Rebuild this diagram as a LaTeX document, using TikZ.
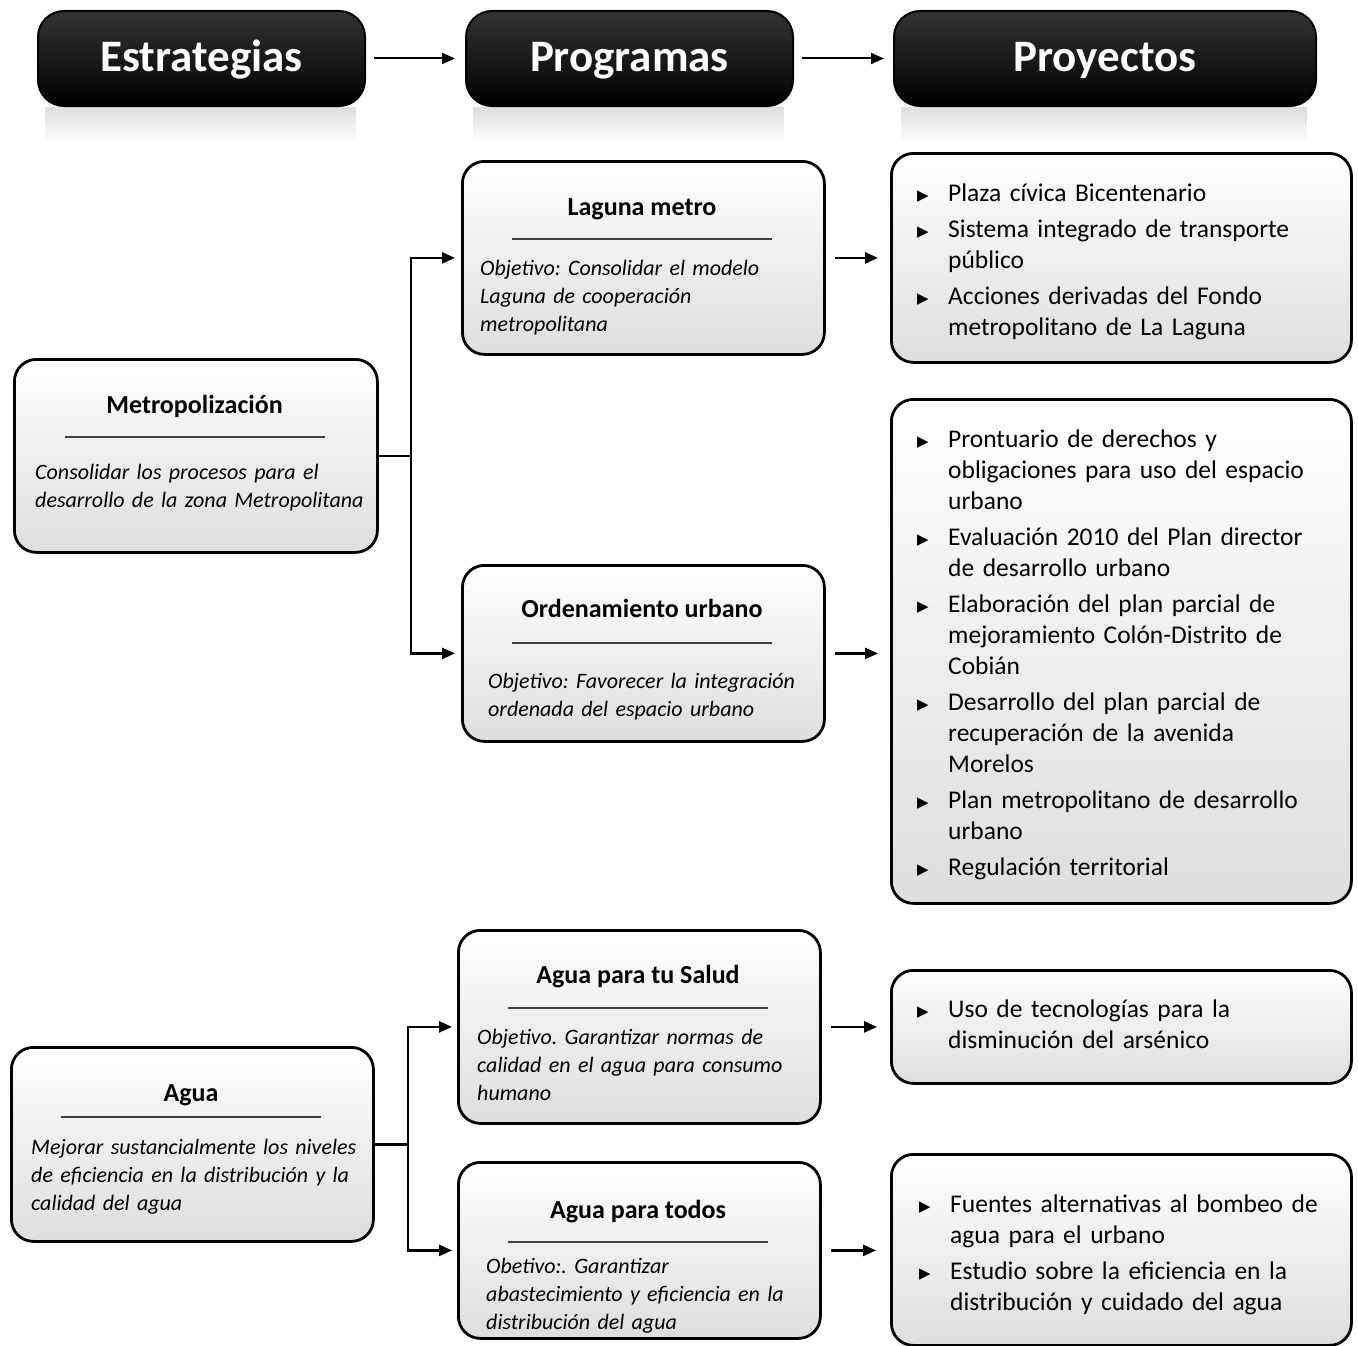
\documentclass[tikz,border=0pt]{standalone}
\usepackage{fontspec}
\setmainfont{Carlito}
\newfontfamily\symfont{DejaVu Sans}
\usetikzlibrary{arrows.meta}

% one bullet entry of a project list: triangle marker, hanging lines
\newcommand\bulitem[1]{\par\hangindent=31pt\hangafter=1\noindent
  \makebox[31pt][l]{\raisebox{1pt}{\symfont\fontsize{15}{15}\selectfont ▶}}#1}
\newcommand\itemgap{\par\vspace{5pt}}

\begin{document}
\frenchspacing
\begin{tikzpicture}[x=1pt,y=-1pt,
  header/.style={draw=black, line width=2pt, rounded corners=26pt,
    top color=black!80, bottom color=black, anchor=north west,
    inner sep=0pt, minimum height=95pt, text=white,
    text height=33pt, text depth=8pt,
    font=\fontsize{45}{52}\selectfont\bfseries},
  glow/.style={top color=black!13, bottom color=white, draw=none},
  panel/.style={draw=black, line width=2.8pt, rounded corners=22pt,
    top color=white, bottom color=black!13, anchor=north west, inner sep=0pt},
  ttl/.style={anchor=base, inner sep=0pt, font=\fontsize{26}{31}\selectfont\bfseries},
  obj/.style={anchor=base west, inner sep=0pt, text width=345pt, align=left,
    font=\fontsize{22}{28}\selectfont\itshape},
  plist/.style={anchor=west, inner sep=0pt, text width=425pt,
    font=\fontsize{25.5}{31}\selectfont},
  rule/.style={line width=2.2pt, black!75},
  link/.style={line width=2.6pt, -{Triangle[length=13pt,width=11pt]}},
  tree/.style={line width=2.6pt},
]
\useasboundingbox (0,0) rectangle (1358,1346);

% ---------- column headers ----------
\shade[glow] (45,107) rectangle (356,142);
\shade[glow] (473,107) rectangle (784,142);
\shade[glow] (901,107) rectangle (1307,142);
\node[header, minimum width=327pt] (h1) at (37,10) {Estrategias};
\node[header, minimum width=327pt] (h2) at (465,10) {Programas};
\node[header, minimum width=422pt] (h3) at (893,10) {Proyectos};
\draw[link, line width=2pt, shorten <=8pt, shorten >=10pt] (h1.east) -- (h2.west);
\draw[link, line width=2pt, shorten <=8pt, shorten >=9pt] (h2.east) -- (h3.west);

% ---------- strategies ----------
\node[panel, minimum width=363pt, minimum height=193pt] (met) at (13,358) {};
\node[ttl] (tmet) at (194.5,413) {Metropolización};
\draw[rule] (64.5,437) -- (324.5,437);
\node[obj] (omet) at (35,479) {Consolidar los procesos para el\\desarrollo de la zona Metropolitana};

\node[panel, minimum width=362pt, minimum height=194pt] (agua) at (10,1046) {};
\node[ttl] (tagua) at (191,1101) {Agua};
\draw[rule] (61,1117) -- (321,1117);
\node[obj] (oagua) at (31,1154) {Mejorar sustancialmente los niveles\\de eficiencia en la distribución y la\\calidad del agua};

% ---------- programs ----------
\node[panel, minimum width=362pt, minimum height=193pt] (lag) at (461,160) {};
\node[ttl] (tlag) at (642,215) {Laguna metro};
\draw[rule] (512,239) -- (772,239);
\node[obj] (olag) at (480,275) {Objetivo: Consolidar el modelo\\Laguna de cooperación\\metropolitana};

\node[panel, minimum width=362pt, minimum height=176pt] (ord) at (461,564) {};
\node[ttl] (tord) at (642,617) {Ordenamiento urbano};
\draw[rule] (512,643) -- (772,643);
\node[obj] (oord) at (488,688) {Objetivo: Favorecer la integración\\ordenada del espacio urbano};

\node[panel, minimum width=362pt, minimum height=193pt] (sal) at (457,929) {};
\node[ttl] (tsal) at (638,983) {Agua para tu Salud};
\draw[rule] (508,1008) -- (768,1008);
\node[obj] (osal) at (477,1044) {Objetivo. Garantizar normas de\\calidad en el agua para consumo\\humano};

\node[panel, minimum width=362pt, minimum height=176pt] (tod) at (457,1161) {};
\node[ttl] (ttod) at (638,1218) {Agua para todos};
\draw[rule] (508,1242) -- (768,1242);
\node[obj] (otod) at (486,1273) {Obetivo:. Garantizar\\abastecimiento y eficiencia en la\\distribución del agua};

% ---------- projects ----------
\node[panel, minimum width=460pt, minimum height=209pt] (p1) at (890,152) {};
\node[plist] (lp1) at ([xshift=27pt,yshift=3pt]p1.west) {%
  \bulitem{Plaza cívica Bicentenario}\itemgap
  \bulitem{Sistema integrado de transporte\newline público}\itemgap
  \bulitem{Acciones derivadas del Fondo\newline metropolitano de La Laguna}\par};

\node[panel, minimum width=460pt, minimum height=504pt] (p2) at (890,398) {};
\node[plist] (lp2) at ([xshift=27pt,yshift=3pt]p2.west) {%
  \bulitem{Prontuario de derechos y\newline obligaciones para uso del espacio\newline urbano}\itemgap
  \bulitem{Evaluación 2010 del Plan director\newline de desarrollo urbano}\itemgap
  \bulitem{Elaboración del plan parcial de\newline mejoramiento Colón-Distrito de\newline Cobián}\itemgap
  \bulitem{Desarrollo del plan parcial de\newline recuperación de la avenida\newline Morelos}\itemgap
  \bulitem{Plan metropolitano de desarrollo\newline urbano}\itemgap
  \bulitem{Regulación territorial}\par};

\node[panel, minimum width=460pt, minimum height=113pt] (p3) at (890,969) {};
\node[plist] (lp3) at ([xshift=27pt,yshift=9pt]p3.west) {%
  \bulitem{Uso de tecnologías para la\newline disminución del arsénico}\par};

\node[panel, minimum width=460pt, minimum height=191pt] (p4) at (890,1153) {};
\node[plist] (lp4) at ([xshift=29pt,yshift=2pt]p4.west) {%
  \bulitem{Fuentes alternativas al bombeo de\newline agua para el urbano}\itemgap
  \bulitem{Estudio sobre la eficiencia en la\newline distribución y cuidado del agua}\par};

% ---------- connectors ----------
\draw[tree] (met.east) -- ++(32,0) coordinate (ja);
\draw[link, shorten >=6pt] (ja) |- (lag.west);
\draw[link, shorten >=6pt] (ja) |- (ord.west);
\draw[tree] (agua.east) -- ++(33,0) coordinate (jb);
\draw[link, shorten >=5pt] (jb) |- (sal.west);
\draw[link, shorten >=5pt] (jb) |- (tod.west);

\draw[link, shorten <=9pt, shorten >=12pt] (lag.east) -- (lag.east -| p1.west);
\draw[link, shorten <=9pt, shorten >=12pt] (ord.east) -- (ord.east -| p2.west);
\draw[link, shorten <=9pt, shorten >=13pt] (sal.east) -- (sal.east -| p3.west);
\draw[link, shorten <=9pt, shorten >=14pt] (tod.east) -- (tod.east -| p4.west);
\end{tikzpicture}
\end{document}
